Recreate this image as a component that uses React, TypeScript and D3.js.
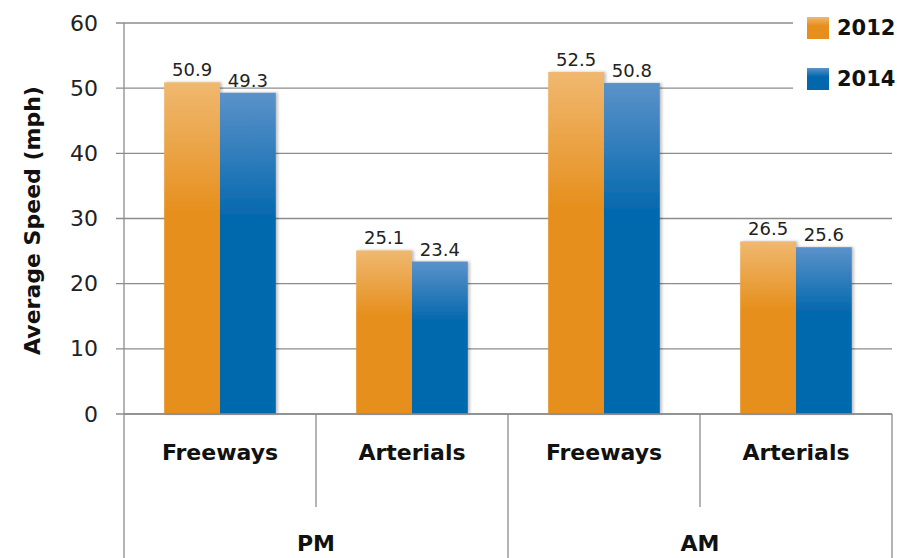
import React from 'react';
import * as d3 from 'd3';

const periods = ['PM', 'AM'];
const roads = ['Freeways', 'Arterials'];
const years = ['2012', '2014'];
const speeds2012 = [50.9, 25.1, 52.5, 26.5];
const speeds2014 = [49.3, 23.4, 50.8, 25.6];
const yTicks = [0, 10, 20, 30, 40, 50, 60];

const width = 897;
const height = 558;
const margin = { left: 124, right: 5, top: 23, bottom: 144 };
const font = "'DejaVu Sans', sans-serif";

const colors = {
  '2012': ['#f0b870', '#e68f1c'],
  '2014': ['#5b92c9', '#0267ad'],
};

export default function App() {
  const categories = periods.flatMap((p) => roads.map((r) => `${p}|${r}`));
  const x = d3
    .scaleBand()
    .domain(categories)
    .range([margin.left, width - margin.right]);
  const inner = d3
    .scaleBand()
    .domain(years)
    .range([0, x.bandwidth()])
    .paddingOuter(0.72)
    .paddingInner(0);
  const y = d3
    .scaleLinear()
    .domain([0, 60])
    .range([height - margin.bottom, margin.top]);

  const series = [speeds2012, speeds2014];
  const baseY = y(0);
  const periodW = x.bandwidth() * roads.length;

  return (
    <svg
      width={width}
      height={height}
      style={{ position: 'absolute', left: 0, top: 0, background: '#fff' }}
      fontFamily={font}
    >
      <defs>
        {years.map((yr) => (
          <linearGradient key={yr} id={`g${yr}`} x1="0" y1="0" x2="0" y2="1">
            <stop offset="0%" stopColor={colors[yr][0]} />
            <stop offset="40%" stopColor={colors[yr][1]} />
            <stop offset="100%" stopColor={colors[yr][1]} />
          </linearGradient>
        ))}
        <filter id="shadow" x="-10%" y="-10%" width="130%" height="120%">
          <feDropShadow dx="2" dy="0" stdDeviation="1.5" floodColor="#000" floodOpacity="0.25" />
        </filter>
      </defs>

      {/* gridlines */}
      {yTicks.map((t) => {
        const legendZone = t >= 50;
        return (
          <line
            key={t}
            x1={margin.left - 8}
            x2={legendZone ? 793 : width - margin.right}
            y1={y(t)}
            y2={y(t)}
            stroke="#8c8c8c"
            strokeWidth={1.3}
          />
        );
      })}
      {yTicks.map((t) => (
        <text
          key={t}
          x={98}
          y={y(t)}
          textAnchor="end"
          dominantBaseline="central"
          fontSize={22}
          fill="#222"
        >
          {t}
        </text>
      ))}
      <line x1={margin.left} x2={margin.left} y1={margin.top} y2={baseY} stroke="#8c8c8c" strokeWidth={1.3} />

      <text
        transform={`translate(32,${(margin.top + baseY) / 2 + 2}) rotate(-90)`}
        textAnchor="middle"
        dominantBaseline="central"
        fontSize={22}
        fontWeight="bold"
        fill="#111"
      >
        Average Speed (mph)
      </text>

      {/* bars */}
      {categories.map((c, i) =>
        years.map((yr, j) => {
          const v = series[j][i];
          const bx = (x(c) as number) + (inner(yr) as number);
          return (
            <g key={c + yr}>
              <rect
                x={bx}
                y={y(v)}
                width={inner.bandwidth()}
                height={baseY - y(v)}
                fill={`url(#g${yr})`}
                filter="url(#shadow)"
              />
              <text
                x={bx + inner.bandwidth() / 2}
                y={y(v) - 6}
                textAnchor="middle"
                fontSize={18}
                fill="#222"
              >
                {v.toFixed(1)}
              </text>
            </g>
          );
        })
      )}

      {/* category axis */}
      <line x1={margin.left} x2={width - margin.right} y1={baseY} y2={baseY} stroke="#8c8c8c" strokeWidth={1.3} />
      {categories.map((c, i) => {
        const cx = x(c) as number;
        return (
          <g key={c}>
            <text
              x={cx + x.bandwidth() / 2}
              y={452}
              textAnchor="middle"
              dominantBaseline="central"
              fontSize={22}
              fontWeight="bold"
              fill="#111"
            >
              {c.split('|')[1]}
            </text>
            {i % roads.length !== 0 && (
              <line x1={cx} x2={cx} y1={baseY} y2={507} stroke="#8c8c8c" strokeWidth={1.3} />
            )}
          </g>
        );
      })}
      {periods.map((p, k) => {
        const px = margin.left + k * periodW;
        return (
          <g key={p}>
            <line x1={px} x2={px} y1={baseY} y2={height} stroke="#8c8c8c" strokeWidth={1.3} />
            <text
              x={px + periodW / 2}
              y={543}
              textAnchor="middle"
              dominantBaseline="central"
              fontSize={22}
              fontWeight="bold"
              fill="#111"
            >
              {p}
            </text>
          </g>
        );
      })}
      <line
        x1={width - margin.right}
        x2={width - margin.right}
        y1={baseY}
        y2={height}
        stroke="#8c8c8c"
        strokeWidth={1.3}
      />

      {/* legend */}
      {years.map((yr, j) => (
        <g key={yr} transform={`translate(807,${17 + j * 51})`}>
          <rect width={22} height={22} fill={`url(#g${yr})`} />
          <text x={30} y={11} dominantBaseline="central" fontSize={21} fontWeight="bold" fill="#111">
            {yr}
          </text>
        </g>
      ))}
    </svg>
  );
}
